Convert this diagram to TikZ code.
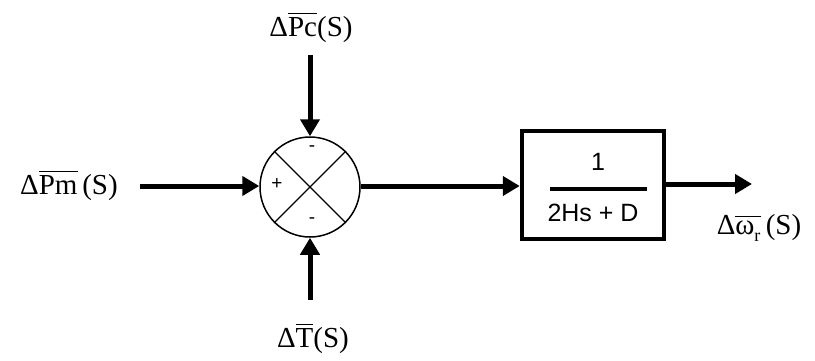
\documentclass[tikz,border=0pt]{standalone}
\usepackage{fontspec}
\usepackage{unicode-math}
\setmathfont{Latin Modern Math}
\setmainfont{Liberation Serif}
\setsansfont{Liberation Sans}
\usetikzlibrary{arrows.meta}
\newcommand{\ovl}[1]{\ensuremath{\overline{\mbox{#1}}}}
\begin{document}
\begin{tikzpicture}[x=1pt,y=-1pt,
  sig/.style={line width=5pt,-{Triangle[length=17pt,width=19pt]}},
  lbl/.style={font=\fontsize{29}{32}\selectfont,inner sep=0pt},
  sgn/.style={font=\sffamily\fontsize{19}{19}\selectfont,inner sep=0pt}]
\useasboundingbox (0,0) rectangle (815,360);
\node[circle,draw,line width=1.5pt,minimum size=100pt,inner sep=0pt] (sum) at (310,187) {};
\draw[line width=1.3pt] (sum.45) -- (sum.225) (sum.135) -- (sum.315);
\node[sgn] at (312,149) {-};
\node[sgn] at (277,184) {+};
\node[sgn] at (312,221) {-};
\node[draw,line width=4.5pt,minimum width=142pt,minimum height=108pt] (blk) at (593,185) {};
\node[font=\sffamily\fontsize{25}{26}\selectfont] (num) at (598,162) {1};
\node[font=\sffamily\fontsize{25}{26}\selectfont] (den) at (593,213) {2Hs + D};
\draw[line width=4.5pt] (550,189) -- (647,189);
\node[lbl] (pm) at (69,185) {Δ\ovl{Pm}\,(S)};
\node[lbl] (pc) at (311,27) {Δ\ovl{Pc}(S)};
\node[lbl] (tt) at (313,338) {Δ\ovl{T}(S)};
\node[lbl] (wr) at (759,228) {Δ\ensuremath{\overline{\mbox{ω}_{\mbox{\fontsize{18}{18}\selectfont r}}}}\,(S)};
\coordinate (pmE) at (140,186);
\coordinate (pcS) at (310,55);
\coordinate (ttN) at (310,300);
\coordinate (out) at (752,184);
\draw[sig] (pmE) -- (sum.west |- pmE);
\draw[sig] (pcS) -- (sum.north);
\draw[sig] (ttN) -- (sum.south);
\draw[sig] (sum.east |- pmE) -- (blk.west |- pmE);
\draw[sig] (blk.east |- out) -- (out);
\end{tikzpicture}
\end{document}
